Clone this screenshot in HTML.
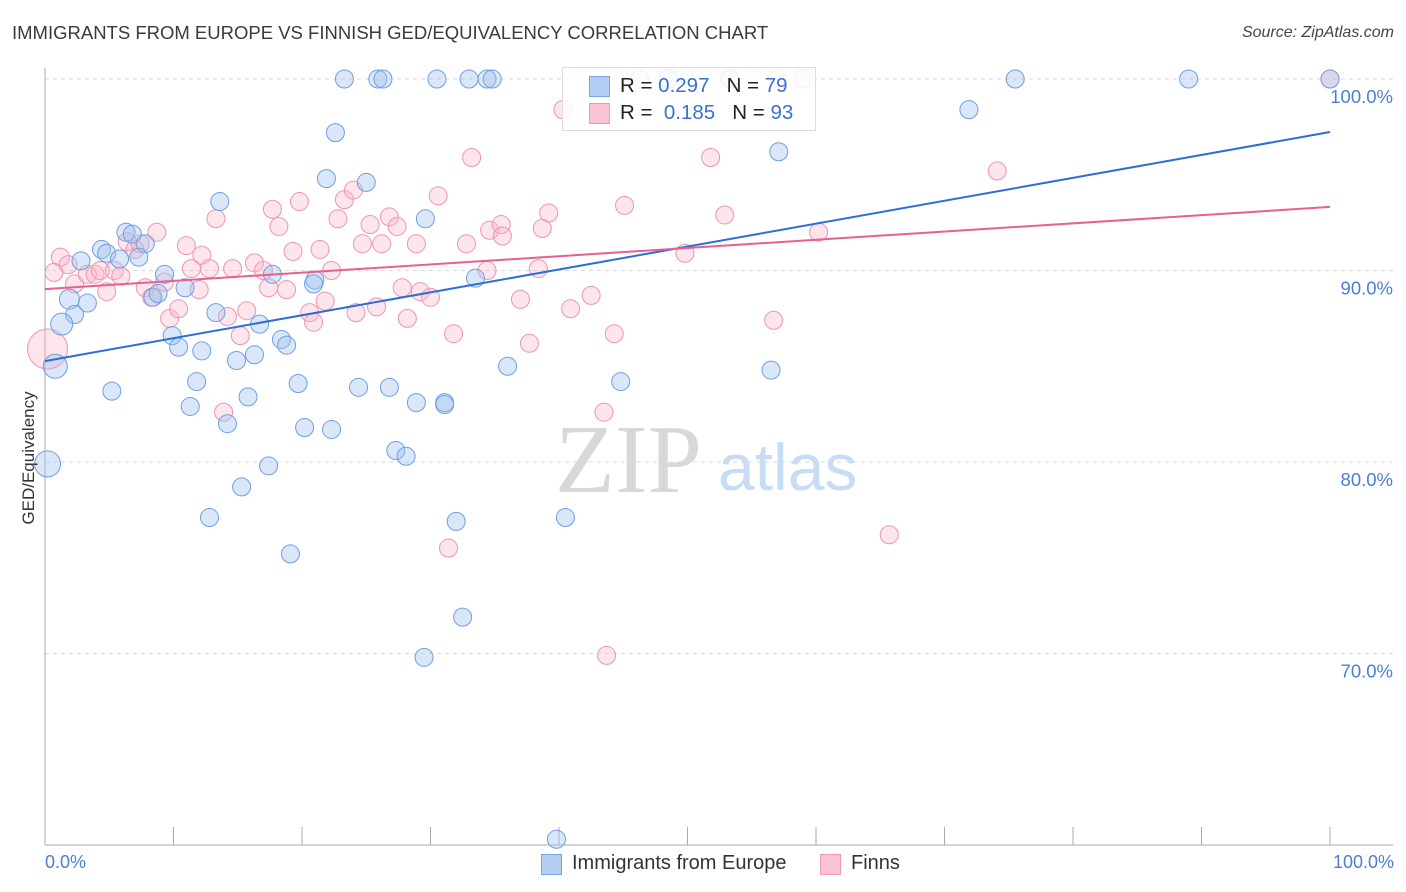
<!DOCTYPE html>
<html><head><meta charset="utf-8">
<style>
body{margin:0;background:#fff;font-family:"Liberation Sans",sans-serif;}
#wrap{position:relative;width:1406px;height:892px;overflow:hidden;}
.t{position:absolute;white-space:nowrap;}
</style></head>
<body>
<div id="wrap">
<div class="t" style="left:12px;top:22px;font-size:18.5px;color:#3a3a3a;">IMMIGRANTS FROM EUROPE VS FINNISH GED/EQUIVALENCY CORRELATION CHART</div>
<div class="t" style="right:12px;top:24px;font-size:16px;font-style:italic;color:#444;">Source: ZipAtlas.com</div>
<svg id="plot" width="1406" height="892" style="position:absolute;left:0;top:0">
<text x="555" y="492" font-family="Liberation Serif,serif" font-size="98" fill="#d8d8d8">ZIP</text>
<text x="718" y="490" font-family="Liberation Sans,sans-serif" font-size="66" fill="#c8dcf3">atlas</text>
<g id="grid"></g><g id="pts"></g><g id="lines"></g>
<text transform="translate(34,458) rotate(-90)" text-anchor="middle" font-size="17" fill="#333">GED/Equivalency</text>
</svg>
<div style="position:absolute;left:562px;top:67px;width:252px;height:62px;border:1px solid #ddd;background:rgba(255,255,255,0.85);">
<div style="position:absolute;left:26px;top:8px;width:19px;height:19px;background:#b3cdf3;border:1px solid #7aa5e3;"></div>
<div style="position:absolute;left:26px;top:35px;width:19px;height:19px;background:#f9c3d3;border:1px solid #f09ab5;"></div>
<div class="t" style="left:57px;top:6px;font-size:20.5px;color:#222;">R = <span style="color:#3b70d0">0.297</span>&nbsp;&nbsp;&nbsp;N = <span style="color:#3b70d0">79</span></div>
<div class="t" style="left:57px;top:33px;font-size:20.5px;color:#222;">R = &nbsp;<span style="color:#3b70d0">0.185</span>&nbsp;&nbsp;&nbsp;N = <span style="color:#3b70d0">93</span></div>
</div>
<div class="t" style="left:45px;top:852px;font-size:18px;color:#4a7fd4;">0.0%</div>
<div class="t" style="right:12px;top:852px;font-size:18px;color:#4a7fd4;">100.0%</div>
<div style="position:absolute;left:541px;top:854px;width:19px;height:19px;background:#b3cdf3;border:1px solid #7aa5e3;"></div>
<div class="t" style="left:572px;top:852px;font-size:20px;color:#333;">Immigrants from Europe</div>
<div style="position:absolute;left:820px;top:854px;width:19px;height:19px;background:#f9c3d3;border:1px solid #f09ab5;"></div>
<div class="t" style="left:851px;top:852px;font-size:20px;color:#333;">Finns</div>
</div>
<script>
const yTicks=[100,90,80,70];
const yTickLabels=["100.0%","90.0%","80.0%","70.0%"];
const xTicks=[0,10,20,30,40,50,60,70,80,90,100];
const blueX=[23.3,25.9,26.3,30.5,33.0,34.4,34.8,75.5,89.0,100,71.9,22.6,57.1,21.9,25.0,13.6,29.6,6.3,6.8,7.8,4.4,4.8,2.8,5.8,7.3,9.3,17.7,21.0,20.9,33.5,1.9,3.3,8.4,8.8,10.9,2.3,1.3,13.3,16.7,9.9,18.4,18.8,10.4,12.2,16.3,14.9,0.8,36.0,56.5,5.2,11.8,19.7,24.4,26.8,44.8,15.8,28.9,31.1,31.1,11.3,14.2,20.2,22.3,27.3,28.1,0.2,17.4,15.3,12.8,32.0,40.5,19.1,32.5,29.5,39.8,46.3,48.5,53.3];
const blueY=[100,100,100,100,100,100,100,100,100,100,98.4,97.2,96.2,94.8,94.6,93.6,92.7,92.0,91.9,91.4,91.1,90.9,90.5,90.6,90.7,89.8,89.8,89.5,89.3,89.6,88.5,88.3,88.6,88.8,89.1,87.7,87.2,87.8,87.2,86.6,86.4,86.1,86.0,85.8,85.6,85.3,85.0,85.0,84.8,83.7,84.2,84.1,83.9,83.9,84.2,83.4,83.1,83.1,83.0,82.9,82.0,81.8,81.7,80.6,80.3,79.9,79.8,78.7,77.1,76.9,77.1,75.2,71.9,69.8,60.3,100,100,100];
const pinkX=[1.2,0.7,1.8,2.3,3.3,3.9,4.3,4.8,5.4,5.9,6.4,7.0,7.4,7.8,8.3,8.7,9.3,9.7,10.4,11.0,11.4,12.0,12.2,12.8,13.3,14.6,14.2,15.2,15.7,16.3,17.0,17.4,17.7,18.2,18.8,19.3,19.8,20.6,20.9,21.4,21.8,22.3,22.8,23.3,24.0,24.2,24.7,25.3,25.8,26.2,26.8,27.4,27.8,28.2,28.9,29.2,30.0,30.6,31.8,32.8,33.2,34.4,34.6,35.5,35.6,37.0,37.7,38.4,38.7,39.2,40.9,42.5,43.5,43.7,44.3,45.1,49.8,51.8,52.9,56.7,60.2,59.0,74.1,65.7,13.9,31.4,40.3,100,57.0,0.2];
const pinkY=[90.7,89.9,90.3,89.3,89.8,89.8,90.0,88.9,90.0,89.7,91.5,91.1,91.4,89.1,88.6,92.0,89.4,87.5,88.0,91.3,90.1,89.0,90.8,90.1,92.7,90.1,87.6,86.6,87.9,90.4,90.0,89.1,93.2,92.3,89.0,91.0,93.6,87.8,87.3,91.1,88.4,90.0,92.7,93.7,94.2,87.8,91.4,92.4,88.1,91.4,92.8,92.3,89.1,87.5,91.4,88.9,88.6,93.9,86.7,91.4,95.9,90.0,92.1,92.4,91.8,88.5,86.2,90.1,92.2,93.0,88.0,88.7,82.6,69.9,86.7,93.4,90.9,95.9,92.9,87.4,92.0,100,95.2,76.2,82.6,75.5,98.4,100,100,85.9];
const blueTrend=[85.27,97.23];
const pinkTrend=[89.03,93.32];
const xs=v=>45+v*12.85;
const ys=v=>79+(100-v)*19.15;
const NS="http://www.w3.org/2000/svg";
function mk(tag,attrs,parent){const e=document.createElementNS(NS,tag);for(const k in attrs)e.setAttribute(k,attrs[k]);parent.appendChild(e);return e;}
const grid=document.getElementById('grid'),pts=document.getElementById('pts'),lines=document.getElementById('lines'),svg=document.getElementById('plot');
yTicks.forEach((t,i)=>{
  const l=mk('line',{x1:45,x2:1393,y1:ys(t),y2:ys(t),stroke:'#d8d8d8','stroke-dasharray':'4,4'},grid);
  
  
  const tx=mk('text',{x:1393,y:ys(t)+24,'text-anchor':'end','font-size':18.5,fill:'#4a7fd4'},svg);
  tx.textContent=yTickLabels[i];
  
  
});
const ax=mk('line',{x1:45,x2:45,y1:68,y2:845,stroke:'#aaa'},grid);


const bx=mk('line',{x1:45,x2:1393,y1:845,y2:845,stroke:'#aaa'},grid);


xTicks.forEach(t=>{
  const l=mk('line',{x1:xs(t),x2:xs(t),y1:827,y2:845,stroke:'#aaa'},grid);
  
  
});
function big(x,y,isPink){
  if(isPink&&x<1&&y<87)return 20;
  if(!isPink&&x<0.5)return 13;
  if(!isPink&&x<1)return 12;
  if(!isPink&&x<1.5)return 11;
  if(!isPink&&x<2)return 10;
  return 9;
}
pinkX.forEach((x,i)=>{
  const c=mk('circle',{cx:xs(x),cy:ys(pinkY[i]),r:big(x,pinkY[i],true),fill:'rgba(248,180,200,0.35)',stroke:'#ee95b1','stroke-width':1},pts);
  
  
});
blueX.forEach((x,i)=>{
  const c=mk('circle',{cx:xs(x),cy:ys(blueY[i]),r:big(x,blueY[i],false),fill:'rgba(160,196,240,0.4)',stroke:'#6f9fe0','stroke-width':1},pts);
  
  
});
const bl=mk('line',{x1:xs(0),y1:ys(blueTrend[0]),x2:xs(100),y2:ys(blueTrend[1]),stroke:'#2a6fd6','stroke-width':2},lines);


const pl=mk('line',{x1:xs(0),y1:ys(pinkTrend[0]),x2:xs(100),y2:ys(pinkTrend[1]),stroke:'#e8608e','stroke-width':2},lines);


</script>
</body></html>
